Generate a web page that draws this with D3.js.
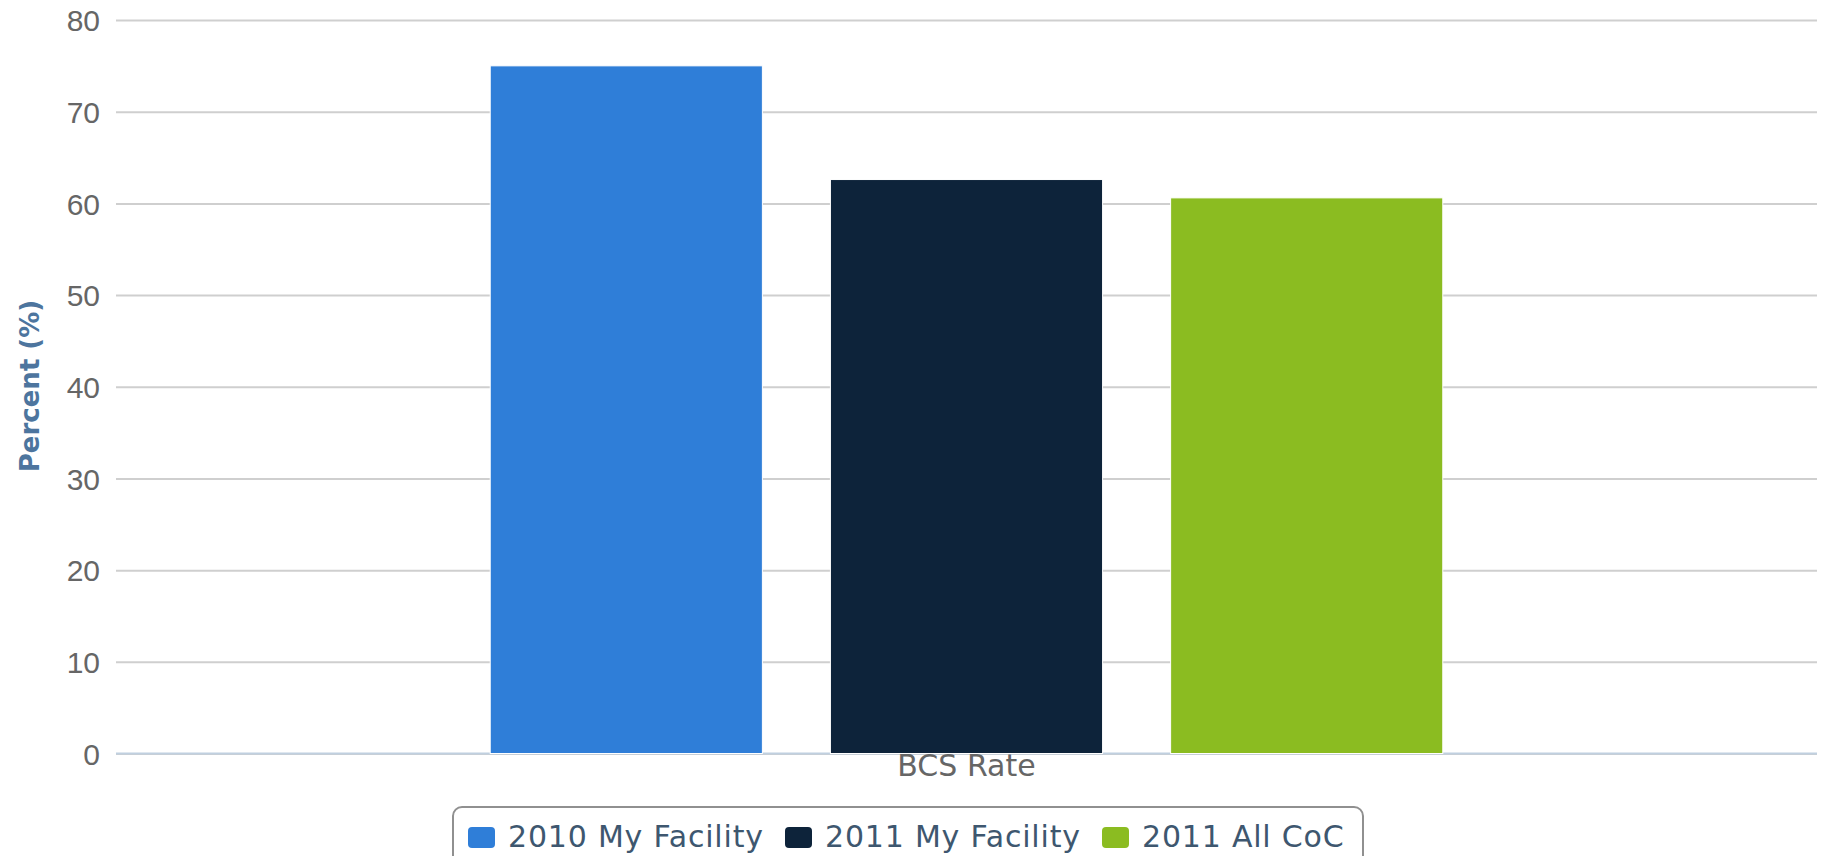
<!DOCTYPE html>
<html>
<head>
<script src="https://d3js.org/d3.v7.min.js"></script>
<style>
  body { margin: 0; background: #fff; }
  svg { font-family: "DejaVu Sans", Verdana, sans-serif; }
  .y-axis text { fill: #666; font-size: 30px; }
  .y-axis line { stroke: #cfcfcf; stroke-width: 2px; }
  .y-axis .domain { display: none; }
  .cat-label { fill: #666; font-size: 30px; text-anchor: middle; }
  .y-title { fill: #4d759e; font-size: 26px; font-weight: bold; text-anchor: middle; }
  .legend text { fill: #3e576f; font-size: 30px; letter-spacing: 0.8px; }
</style>
</head>
<body>
<svg width="1826" height="856"></svg>
<script>
// chart data
var categories = ["BCS Rate"];
var seriesNames = ["2010 My Facility", "2011 My Facility", "2011 All CoC"];
var seriesValues = [75, 62.6, 60.6];
var seriesColors = ["#2f7ed8", "#0d233a", "#8bbc21"];
var yTicks = [0, 10, 20, 30, 40, 50, 60, 70, 80];

var svg = d3.select("svg");
var plotLeft = 116, plotRight = 1817, plotTop = 20, plotBottom = 753.5;

var y = d3.scaleLinear().domain([0, 80]).range([plotBottom, plotTop]);

// one band per category, bars grouped inside it
var x0 = d3.scaleBand().domain(categories).range([plotLeft, plotRight])
    .paddingInner(0.4).paddingOuter(0.2);
var x1 = d3.scaleBand().domain(seriesNames).range([0, x0.bandwidth()])
    .paddingInner(0.2).paddingOuter(0.1);

svg.append("g")
    .attr("class", "y-axis")
    .attr("transform", "translate(" + plotLeft + ",0)")
    .call(d3.axisLeft(y).tickValues(yTicks).tickSize(-(plotRight - plotLeft)).tickPadding(16))
    .selectAll("text").attr("dy", "0.36em");

// x axis baseline
svg.append("line")
    .attr("x1", plotLeft).attr("x2", plotRight)
    .attr("y1", y(0)).attr("y2", y(0))
    .attr("stroke", "#c0d0e0").attr("stroke-width", 2);

var group = svg.selectAll(".cat")
    .data(categories)
    .enter().append("g")
    .attr("class", "cat")
    .attr("transform", function(d) { return "translate(" + x0(d) + ",0)"; });

group.selectAll("rect")
    .data(seriesNames.map(function(s, i) { return {name: s, value: seriesValues[i], color: seriesColors[i]}; }))
    .enter().append("rect")
    .attr("x", function(d) { return x1(d.name); })
    .attr("y", function(d) { return y(d.value); })
    .attr("width", x1.bandwidth())
    .attr("height", function(d) { return y(0) - y(d.value); })
    .attr("fill", function(d) { return d.color; })
    .attr("stroke", "#fff").attr("stroke-width", 1);

group.append("text")
    .attr("class", "cat-label")
    .attr("x", x0.bandwidth() / 2)
    .attr("y", 776)
    .text(function(d) { return d; });

svg.append("text")
    .attr("class", "y-title")
    .attr("transform", "translate(39,386) rotate(-90)")
    .text("Percent (%)");

// legend
var legend = svg.append("g").attr("class", "legend");
legend.append("rect")
    .attr("x", 453).attr("y", 807)
    .attr("width", 910).attr("height", 70)
    .attr("rx", 9)
    .attr("fill", "#fff").attr("stroke", "#909090").attr("stroke-width", 2);

var itemX = [468, 785, 1102];
var items = legend.selectAll(".item")
    .data(seriesNames)
    .enter().append("g")
    .attr("class", "item")
    .attr("transform", function(d, i) { return "translate(" + itemX[i] + ",0)"; });

items.append("rect")
    .attr("y", 827).attr("width", 27).attr("height", 21).attr("rx", 4)
    .attr("fill", function(d, i) { return seriesColors[i]; });

items.append("text")
    .attr("x", 40).attr("y", 847)
    .text(function(d) { return d; });
</script>
</body>
</html>
